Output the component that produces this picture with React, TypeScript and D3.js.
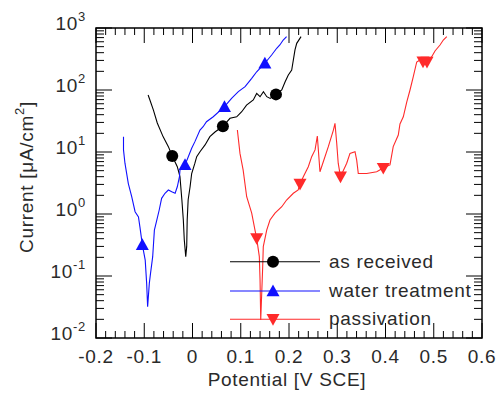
import React from "react";
import * as d3 from "d3";

const width = 498;
const height = 394;

// as received
const asReceivedE = [-0.092, -0.089, -0.081, -0.073, -0.061, -0.05, -0.042, -0.0315, -0.026, -0.022, -0.019, -0.017, -0.014, -0.012, -0.011, -0.009, -0.005, -0.0017, 0.005, 0.0087, 0.0155, 0.026, 0.036, 0.0466, 0.063, 0.0777, 0.0916, 0.102, 0.112, 0.126, 0.133, 0.14, 0.147, 0.154, 0.161, 0.173, 0.185, 0.192, 0.1986, 0.2056, 0.209, 0.2124, 0.216, 0.225];
const asReceivedI = [83, 71.6, 47.5, 29.4, 17.7, 12.2, 8.6, 5.8, 4.0, 1.68, 0.8, 0.38, 0.205, 0.3, 0.8, 1.7, 2.75, 4.5, 6.6, 8.4, 10.1, 13, 17.7, 21, 26, 35, 37, 44.6, 57, 69, 88, 78, 94, 78, 73, 85, 100, 136, 175, 210, 305, 442, 566, 725];
const asReceivedMarkE = [-0.042, 0.063, 0.173];
const asReceivedMarkI = [8.6, 26, 85];

// water treatment
const waterE = [-0.143, -0.143, -0.14, -0.133, -0.126, -0.119, -0.112, -0.109, -0.104, -0.098, -0.095, -0.093, -0.0895, -0.087, -0.0825, -0.079, -0.074, -0.069, -0.064, -0.057, -0.05, -0.043, -0.036, -0.0315, -0.027, -0.026, -0.0155, -0.0087, -0.0017, 0.005, 0.0155, 0.022, 0.029, 0.043, 0.0663, 0.081, 0.095, 0.109, 0.1227, 0.133, 0.15, 0.164, 0.1745, 0.181, 0.188, 0.195];
const waterI = [17.7, 10.8, 6.6, 3.1, 1.9, 1.09, 0.9, 0.62, 0.32, 0.18, 0.076, 0.032, 0.076, 0.11, 0.205, 0.55, 0.8, 1.16, 1.79, 2.16, 2.44, 2.29, 2.16, 2.75, 4.0, 5.1, 6.2, 8.4, 11.5, 14.7, 22.6, 25.6, 30.8, 37, 53.8, 73.5, 94, 113, 154, 197, 270, 367, 471, 532, 640, 725];
const waterMarkE = [-0.104, -0.0155, 0.0663, 0.15];
const waterMarkI = [0.32, 6.2, 53.8, 270];

// passivation
const passE = [0.093, 0.0984, 0.105, 0.1123, 0.1227, 0.1295, 0.133, 0.1385, 0.14, 0.1414, 0.1455, 0.1467, 0.1538, 0.1606, 0.171, 0.185, 0.195, 0.209, 0.219, 0.2228, 0.2297, 0.24, 0.247, 0.254, 0.2587, 0.2642, 0.2815, 0.292, 0.2953, 0.2989, 0.302, 0.3067, 0.3196, 0.3264, 0.3368, 0.3403, 0.3436, 0.361, 0.3818, 0.3954, 0.4093, 0.416, 0.4265, 0.43, 0.4369, 0.444, 0.4508, 0.4576, 0.4647, 0.4715, 0.4777, 0.486, 0.4958, 0.5026, 0.513, 0.5198, 0.527];
const passI = [22.6, 9.5, 5.1, 1.9, 1.03, 0.55, 0.405, 0.205, 0.086, 0.0195, 0.141, 0.297, 0.55, 0.8, 1.03, 1.31, 1.68, 2.16, 2.44, 3.05, 4.0, 5.8, 8.4, 10.8, 18.1, 4.8, 12.2, 22.6, 29, 13.8, 6.6, 4.0, 6.6, 9.5, 10.1, 7.4, 4.5, 4.5, 4.8, 5.5, 6.2, 12.2, 18.8, 28.3, 37, 64, 100, 164, 283, 305, 286, 283, 344, 426, 532, 640, 725];
const passMarkE = [0.133, 0.2228, 0.3067, 0.3954, 0.4777, 0.486];
const passMarkI = [0.405, 3.05, 4.0, 5.5, 286, 283];

const xTickLabels = ["-0.2", "-0.1", "0", "0.1", "0.2", "0.3", "0.4", "0.5", "0.6"];
const yTickExp = ["-2", "-1", "0", "1", "2", "3"];
const legendNames = ["as received", "water treatment", "passivation"];
const colors = ["#000000", "#1010ff", "#ff2a2a"];

const left = 96, right = 482, top = 28, bottom = 338;
const font = "'Liberation Sans', Arial, sans-serif";
const txt = "#2a2a2a";
const spacing = 0.7;

const xScale = d3.scaleLinear().domain([-0.2, 0.6]).range([left, right]);
const yScale = d3.scaleLog().domain([0.01, 1000]).range([bottom, top]);

function Marker({ kind, x, y, color }) {
  if (kind === "circle") return <circle cx={x} cy={y} r={6} fill={color} />;
  const s = 6.5;
  if (kind === "up")
    return <path d={`M${x},${y - s}L${x + s},${y + s * 0.8}L${x - s},${y + s * 0.8}Z`} fill={color} />;
  return <path d={`M${x},${y + s}L${x + s},${y - s * 0.8}L${x - s},${y - s * 0.8}Z`} fill={color} />;
}

export default function App() {
  const line = d3.line<number>().x((d) => d[0]).y((d) => d[1]);
  const series = [
    { e: asReceivedE, i: asReceivedI, me: asReceivedMarkE, mi: asReceivedMarkI, kind: "circle" },
    { e: waterE, i: waterI, me: waterMarkE, mi: waterMarkI, kind: "up" },
    { e: passE, i: passI, me: passMarkE, mi: passMarkI, kind: "down" },
  ];

  const xTicks = xScale.ticks(40);
  const yTicks = yScale.ticks();
  const isMajorX = (v) => Math.abs(v * 10 - Math.round(v * 10)) < 1e-6;
  const isMajorY = (v) => Math.abs(Math.log10(v) - Math.round(Math.log10(v))) < 1e-6;

  const legendY = [261.7, 291, 319.3];

  return (
    <div style={{ position: "absolute", left: 0, top: 0 }}>
      <svg width={width} height={height} style={{ display: "block", background: "#fff" }}>
        {/* data */}
        {series.map((s, k) => (
          <g key={k}>
            <path
              d={line(s.e.map((v, j) => [xScale(v), yScale(s.i[j])])) || ""}
              fill="none"
              stroke={colors[k]}
              strokeWidth={1.1}
            />
            {s.me.map((v, j) => (
              <Marker key={j} kind={s.kind} x={xScale(v)} y={yScale(s.mi[j])} color={colors[k]} />
            ))}
          </g>
        ))}

        {/* legend */}
        {legendNames.map((n, k) => (
          <g key={n}>
            <line x1={230} x2={320} y1={legendY[k]} y2={legendY[k]} stroke={colors[k]} strokeWidth={1.1} />
            <Marker kind={series[k].kind} x={273} y={legendY[k]} color={colors[k]} />
            <text x={329} y={legendY[k] + 6} fontFamily={font} fontSize={19} fill={txt} letterSpacing={spacing}>
              {n}
            </text>
          </g>
        ))}

        {/* frame */}
        <rect x={left} y={top} width={right - left} height={bottom - top} fill="none" stroke="#000" strokeWidth={1.5} />

        {/* x ticks */}
        {xTicks.map((v, k) => {
          const x = xScale(v);
          const len = isMajorX(v) ? 15 : 7;
          return (
            <g key={k}>
              <line x1={x} x2={x} y1={bottom} y2={bottom - len} stroke="#000" />
              <line x1={x} x2={x} y1={top} y2={top + len} stroke="#000" />
            </g>
          );
        })}
        {xTickLabels.map((t) => (
          <text key={t} x={xScale(+t)} y={363} textAnchor="middle" fontFamily={font} fontSize={19} fill={txt} letterSpacing={spacing}>
            {t}
          </text>
        ))}

        {/* y ticks */}
        {yTicks.map((v, k) => {
          const y = yScale(v);
          const len = isMajorY(v) ? 16 : 8;
          return (
            <g key={k}>
              <line x1={left} x2={left + len} y1={y} y2={y} stroke="#000" />
              <line x1={right} x2={right - len} y1={y} y2={y} stroke="#000" />
            </g>
          );
        })}
        {yTickExp.map((p) => (
          <text key={p} x={86} y={yScale(Math.pow(10, +p)) + 2} textAnchor="end" fontFamily={font} fontSize={19} fill={txt} letterSpacing={spacing}>
            <tspan>10</tspan>
            <tspan dy={-9} fontSize={13}>{p}</tspan>
          </text>
        ))}

        {/* axis titles */}
        <text x={287} y={386} textAnchor="middle" fontFamily={font} fontSize={19} fill={txt} letterSpacing={spacing}>
          Potential [V SCE]
        </text>
        <text
          transform={`translate(33,${(top + bottom) / 2 - 6}) rotate(-90)`}
          textAnchor="middle"
          fontFamily={font}
          fontSize={19}
          fill={txt}
          letterSpacing={spacing}
        >
          <tspan>Current [μA/cm</tspan>
          <tspan dy={-9} fontSize={13}>2</tspan>
          <tspan dy={9}>]</tspan>
        </text>
      </svg>
    </div>
  );
}
